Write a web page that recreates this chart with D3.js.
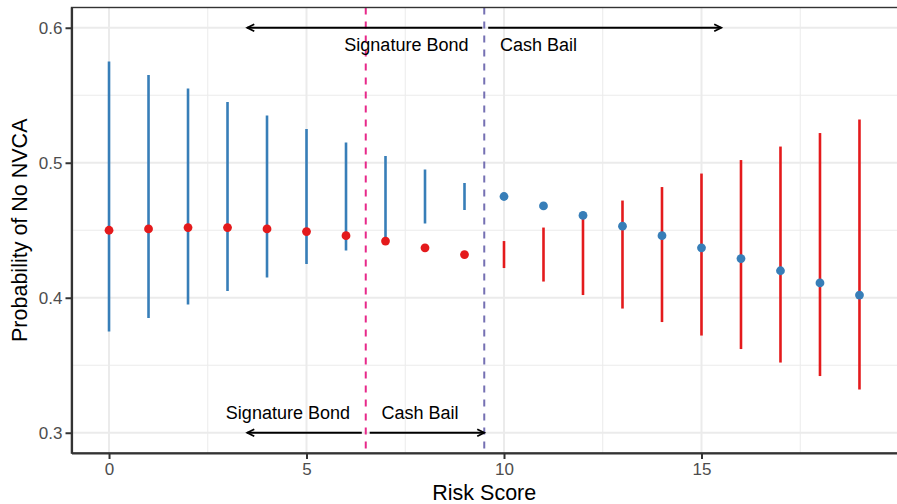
<!DOCTYPE html>
<html>
<head>
<meta charset="utf-8">
<script src="https://cdn.jsdelivr.net/npm/d3@7"></script>
<style>
    body { margin: 0; background: #fff; }
    svg { display: block; font-family: "Liberation Sans", Arial, Helvetica, sans-serif; }
    .tick-label { fill: #4d4d4d; font-size: 17px; }
    .axis-title { fill: #000; font-size: 21.5px; }
    .note { fill: #000; font-size: 18px; }
</style>
</head>
<body>
<div id="chart"></div>
<script>
// risk scores 0-9: red point estimate, blue interval
const lowScores = [0, 1, 2, 3, 4, 5, 6, 7, 8, 9];
const redPoints = [0.450, 0.451, 0.452, 0.452, 0.451, 0.449, 0.446, 0.442, 0.437, 0.432];
const blueLow = [0.375, 0.385, 0.395, 0.405, 0.415, 0.425, 0.435, 0.445, 0.455, 0.465];
const blueHigh = [0.575, 0.565, 0.555, 0.545, 0.535, 0.525, 0.515, 0.505, 0.495, 0.485];

// risk scores 10-19: blue point estimate, red interval
const highScores = [10, 11, 12, 13, 14, 15, 16, 17, 18, 19];
const bluePoints = [0.475, 0.468, 0.461, 0.453, 0.446, 0.437, 0.429, 0.420, 0.411, 0.402];
const redLow = [0.422, 0.412, 0.402, 0.392, 0.382, 0.372, 0.362, 0.352, 0.342, 0.332];
const redHigh = [0.442, 0.452, 0.462, 0.472, 0.482, 0.492, 0.502, 0.512, 0.522, 0.532];

const xTicks = [0, 5, 10, 15];
const yTicks = [0.3, 0.4, 0.5, 0.6];
const xMinor = [2.5, 7.5, 12.5, 17.5];
const yMinor = [0.35, 0.45, 0.55];

const cutoffs = [
    { value: 6.5, color: '#e7298a' },
    { value: 9.5, color: '#7570b3' }
];

const blue = '#377eb8';
const red = '#e41a1c';

const width = 897;
const height = 504;
const margin = { top: 7.5, right: 0, bottom: 51, left: 71.5 };

const svg = d3.select('#chart')
    .append('svg')
    .attr('width', width)
    .attr('height', height);

const x = d3.scaleLinear()
    .domain([-0.95, 19.95])
    .range([margin.left, width - margin.right]);

const y = d3.scaleLinear()
    .domain([0.285, 0.615])
    .range([height - margin.bottom, margin.top]);

const grid = svg.append('g');

grid.append('g').selectAll('line')
    .data(xMinor)
    .join('line')
    .attr('x1', d => x(d)).attr('x2', d => x(d))
    .attr('y1', margin.top).attr('y2', height - margin.bottom)
    .attr('stroke', '#ebebeb').attr('stroke-width', 1);

grid.append('g').selectAll('line')
    .data(yMinor)
    .join('line')
    .attr('x1', margin.left).attr('x2', width)
    .attr('y1', d => y(d)).attr('y2', d => y(d))
    .attr('stroke', '#ebebeb').attr('stroke-width', 1);

grid.append('g').selectAll('line')
    .data(xTicks)
    .join('line')
    .attr('x1', d => x(d)).attr('x2', d => x(d))
    .attr('y1', margin.top).attr('y2', height - margin.bottom)
    .attr('stroke', '#ebebeb').attr('stroke-width', 2);

grid.append('g').selectAll('line')
    .data(yTicks)
    .join('line')
    .attr('x1', margin.left).attr('x2', width)
    .attr('y1', d => y(d)).attr('y2', d => y(d))
    .attr('stroke', '#ebebeb').attr('stroke-width', 2);

// cutoff lines
svg.append('g').selectAll('line')
    .data(cutoffs)
    .join('line')
    .attr('x1', d => x(d.value)).attr('x2', d => x(d.value))
    .attr('y1', margin.top).attr('y2', height - margin.bottom)
    .attr('stroke', d => d.color)
    .attr('stroke-width', 2)
    .attr('stroke-dasharray', '7,7');

// intervals
function drawIntervals(scores, low, high, color) {
    svg.append('g').selectAll('line')
        .data(scores)
        .join('line')
        .attr('x1', d => x(d)).attr('x2', d => x(d))
        .attr('y1', (d, i) => y(low[i]))
        .attr('y2', (d, i) => y(high[i]))
        .attr('stroke', color)
        .attr('stroke-width', 2.6);
}

function drawPoints(scores, values, color) {
    svg.append('g').selectAll('circle')
        .data(scores)
        .join('circle')
        .attr('cx', d => x(d))
        .attr('cy', (d, i) => y(values[i]))
        .attr('r', 4.4)
        .attr('fill', color);
}

drawIntervals(lowScores, blueLow, blueHigh, blue);
drawIntervals(highScores, redLow, redHigh, red);
drawPoints(lowScores, redPoints, red);
drawPoints(highScores, bluePoints, blue);

// arrows
const arrows = [
    { from: 9.45, to: 3.5, at: 0.6 },
    { from: 9.6, to: 15.5, at: 0.6 },
    { from: 6.4, to: 3.5, at: 0.3 },
    { from: 6.6, to: 9.5, at: 0.3 }
];

const arrowGroup = svg.append('g')
    .attr('fill', 'none')
    .attr('stroke', '#000')
    .attr('stroke-width', 1.8);

arrows.forEach(a => {
    const x0 = x(a.from);
    const x1 = x(a.to);
    const yy = y(a.at);
    const dir = x1 > x0 ? 1 : -1;
    arrowGroup.append('line')
        .attr('x1', x0).attr('x2', x1)
        .attr('y1', yy).attr('y2', yy);
    arrowGroup.append('path')
        .attr('d', `M${x1 - dir * 7},${yy - 3.5}L${x1},${yy}L${x1 - dir * 7},${yy + 3.5}`);
});

// labels
const notes = [
    { text: 'Signature Bond', at: 9.1, value: 0.586, anchor: 'end' },
    { text: 'Cash Bail', at: 9.9, value: 0.586, anchor: 'start' },
    { text: 'Signature Bond', at: 6.1, value: 0.314, anchor: 'end' },
    { text: 'Cash Bail', at: 6.9, value: 0.314, anchor: 'start' }
];

svg.append('g').selectAll('text')
    .data(notes)
    .join('text')
    .attr('class', 'note')
    .attr('x', d => x(d.at))
    .attr('y', d => y(d.value))
    .attr('text-anchor', d => d.anchor)
    .attr('dominant-baseline', 'middle')
    .text(d => d.text);

// panel border and axes
svg.append('rect')
    .attr('x', margin.left).attr('y', margin.top)
    .attr('width', width - margin.left + 2)
    .attr('height', height - margin.bottom - margin.top)
    .attr('fill', 'none')
    .attr('stroke', '#333')
    .attr('stroke-width', 1.4);

const xAxis = svg.append('g')
    .attr('transform', `translate(0,${height - margin.bottom})`)
    .call(d3.axisBottom(x).tickValues(xTicks).tickSizeInner(6).tickSizeOuter(0).tickPadding(4).tickFormat(d3.format('d')));

const yAxis = svg.append('g')
    .attr('transform', `translate(${margin.left},0)`)
    .call(d3.axisLeft(y).tickValues(yTicks).tickSizeInner(6).tickSizeOuter(0).tickPadding(3).tickFormat(d3.format('.1f')));

[xAxis, yAxis].forEach(axis => {
    axis.select('.domain').attr('stroke', '#333').attr('stroke-width', 2.2);
    axis.selectAll('.tick line').attr('stroke', '#333').attr('stroke-width', 2);
    axis.selectAll('.tick text')
        .attr('class', 'tick-label')
        .attr('font-family', null)
        .attr('font-size', null)
        .attr('fill', null);
});

svg.append('text')
    .attr('class', 'axis-title')
    .attr('x', (margin.left + width) / 2)
    .attr('y', 500)
    .attr('text-anchor', 'middle')
    .text('Risk Score');

svg.append('text')
    .attr('class', 'axis-title')
    .attr('transform', `translate(27,${(margin.top + height - margin.bottom) / 2}) rotate(-90)`)
    .attr('text-anchor', 'middle')
    .text('Probability of No NVCA');
</script>
</body>
</html>
